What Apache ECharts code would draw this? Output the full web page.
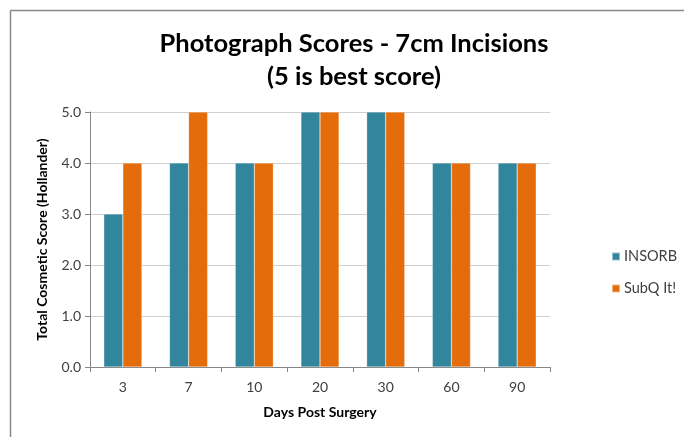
<!DOCTYPE html>
<html>
<head>
<meta charset="utf-8">
<script src="https://cdn.jsdelivr.net/npm/echarts@6/dist/echarts.min.js"></script>
<style>
html,body{margin:0;padding:0;background:#fff;}
#main{width:684px;height:437px;}
</style>
</head>
<body>
<div id="main"></div>
<script>
const categories = ['3', '7', '10', '20', '30', '60', '90'];
const insorb = [3, 4, 4, 5, 5, 4, 4];
const subq = [4, 5, 4, 5, 5, 4, 4];
const seriesNames = ['INSORB', 'SubQ It!'];
const titleText = 'Photograph Scores - 7cm Incisions\n(5 is best score)';
const yAxisTitle = 'Total Cosmetic Score (Hollander)';
const xAxisTitle = 'Days Post Surgery';

const chart = echarts.init(document.getElementById('main'), null, {renderer: 'canvas'});
const FONT = 'Lato, "Open Sans", sans-serif';
chart.setOption({
  animation: false,
  backgroundColor: '#fff',
  title: {
    text: titleText,
    left: 349,
    textAlign: 'center',
    top: 22,
    textStyle: {fontFamily: FONT, fontWeight: 'bold', fontSize: 25.5, lineHeight: 33, color: '#000'}
  },
  graphic: [
    {type: 'line', shape: {x1: 10.5, y1: 10.5, x2: 684, y2: 10.5}, style: {stroke: '#888', lineWidth: 1.5}},
    {type: 'line', shape: {x1: 10.5, y1: 10.5, x2: 10.5, y2: 437}, style: {stroke: '#888', lineWidth: 1.5}}
  ],
  legend: {
    orient: 'vertical',
    left: 606,
    top: 244,
    itemWidth: 8,
    itemHeight: 8,
    itemGap: 17,
    icon: 'rect',
    textStyle: {fontFamily: FONT, fontSize: 14.5, color: '#404040', padding: [0, 0, 0, -1]},
    data: seriesNames
  },
  grid: {left: 90, right: 134, top: 112, bottom: 70, containLabel: false},
  xAxis: {
    type: 'category',
    data: categories,
    name: xAxisTitle,
    nameLocation: 'middle',
    nameGap: 38,
    nameTextStyle: {fontFamily: FONT, fontWeight: 'bold', fontSize: 14, color: '#000'},
    axisLine: {lineStyle: {color: '#868686'}},
    axisTick: {show: true, length: 5, lineStyle: {color: '#868686'}},
    axisLabel: {fontFamily: FONT, fontSize: 14, color: '#404040', margin: 13}
  },
  yAxis: {
    type: 'value',
    min: 0,
    max: 5,
    interval: 1,
    name: yAxisTitle,
    nameLocation: 'middle',
    nameGap: 41,
    nameTextStyle: {fontFamily: FONT, fontWeight: 'bold', fontSize: 14, color: '#000'},
    axisLine: {show: true, lineStyle: {color: '#868686'}},
    axisTick: {show: true, length: 5, lineStyle: {color: '#868686'}},
    axisLabel: {fontFamily: FONT, fontSize: 14, color: '#404040', margin: 9, formatter: v => v.toFixed(1)},
    splitLine: {lineStyle: {color: '#d0d0d0'}}
  },
  series: [
    {name: seriesNames[0], type: 'bar', data: insorb, barGap: '0%', barCategoryGap: '42%',
     itemStyle: {color: '#31859C', borderColor: 'rgba(255,255,255,0.5)', borderWidth: 0.5}},
    {name: seriesNames[1], type: 'bar', data: subq, barGap: '0%', barCategoryGap: '42%',
     itemStyle: {color: '#E46C0A', borderColor: 'rgba(255,255,255,0.5)', borderWidth: 0.5}}
  ]
});
</script>
</body>
</html>
